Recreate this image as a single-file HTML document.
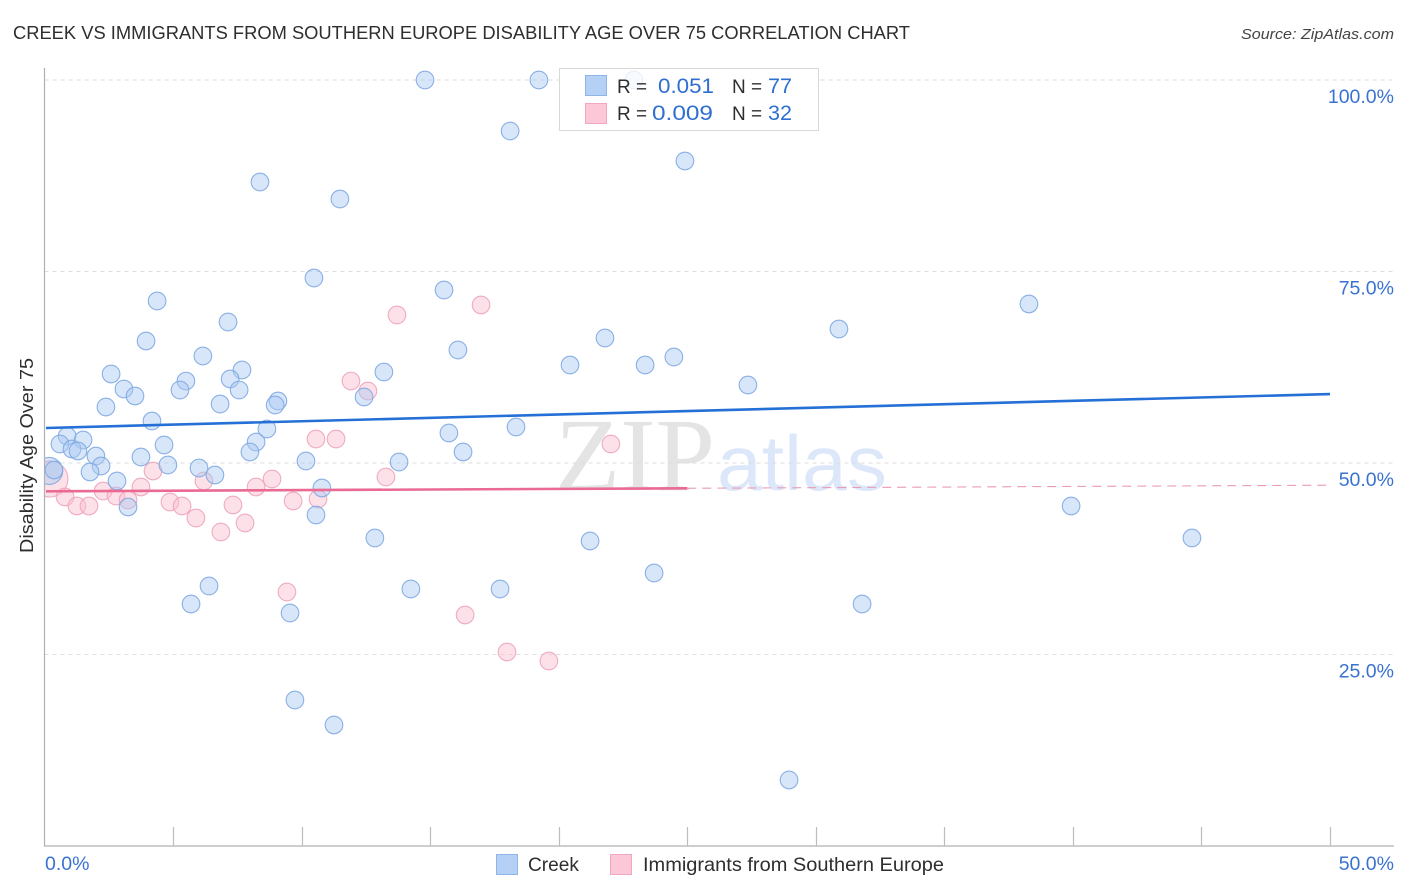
<!DOCTYPE html>
<html lang="en">
<head>
<meta charset="utf-8">
<title>Creek vs Immigrants from Southern Europe Disability Age Over 75 Correlation Chart</title>
<style>
html,body{margin:0;padding:0;background:#fff;}
body{width:1406px;height:892px;overflow:hidden;font-family:"Liberation Sans",sans-serif;}
svg{display:block;}
text{font-family:"Liberation Sans",sans-serif;}
</style>
</head>
<body>
<svg id="chart" width="1406" height="892" viewBox="0 0 1406 892" xmlns="http://www.w3.org/2000/svg">
  <defs>
    <clipPath id="plot-clip"><rect x="45" y="60" width="1349" height="786"/></clipPath>
  </defs>
  <text x="13" y="39" font-size="18.5" fill="#2e2e2e" textLength="897" lengthAdjust="spacingAndGlyphs">CREEK VS IMMIGRANTS FROM SOUTHERN EUROPE DISABILITY AGE OVER 75 CORRELATION CHART</text>
  <text x="1241" y="39" font-size="15" font-style="italic" fill="#444" textLength="153" lengthAdjust="spacingAndGlyphs">Source: ZipAtlas.com</text>

  <g>
    <text x="555" y="490" font-size="104" style="font-family:'Liberation Serif',serif" fill="#e4e4e4" textLength="160" lengthAdjust="spacingAndGlyphs">ZIP</text>
    <text x="717" y="490" font-size="78" fill="#dce8fa" textLength="170" lengthAdjust="spacingAndGlyphs">atlas</text>
  </g>

  <g id="grid"></g>
  <g id="axes"></g>
  <g id="pink-points" clip-path="url(#plot-clip)"></g>
  <g id="blue-points" clip-path="url(#plot-clip)"></g>
  <g id="trends"></g>
  <g id="y-labels"></g>
  <g id="x-labels"></g>

  <text transform="translate(33,553) rotate(-90)" font-size="18" fill="#2e2e2e" textLength="195" lengthAdjust="spacingAndGlyphs">Disability Age Over 75</text>

  <g>
    <rect x="559.5" y="68.5" width="259" height="62" fill="#fff" fill-opacity="0.8" stroke="#d8d8d8"/>
    <rect x="585.5" y="75.5" width="21" height="20" fill="#b5d0f5" stroke="#8fb5e6"/>
    <rect x="585.5" y="103.5" width="21" height="20" fill="#fcc8d8" stroke="#f2a9c0"/>
    <text x="617" y="93" font-size="19" fill="#2e2e2e">R =</text>
    <text x="658" y="93" font-size="21" fill="#2f6fd0" textLength="56" lengthAdjust="spacingAndGlyphs">0.051</text>
    <text x="732" y="93" font-size="19" fill="#2e2e2e">N =</text>
    <text x="768" y="93" font-size="21" fill="#2f6fd0" textLength="24" lengthAdjust="spacingAndGlyphs">77</text>
    <text x="617" y="120" font-size="19" fill="#2e2e2e">R =</text>
    <text x="652" y="120" font-size="21" fill="#2f6fd0" textLength="61" lengthAdjust="spacingAndGlyphs">0.009</text>
    <text x="732" y="120" font-size="19" fill="#2e2e2e">N =</text>
    <text x="768" y="120" font-size="21" fill="#2f6fd0" textLength="24" lengthAdjust="spacingAndGlyphs">32</text>
  </g>

  <g>
    <g>
      <rect x="496.5" y="854.5" width="21" height="20" fill="#b5d0f5" stroke="#8fb5e6"/>
      <text x="528" y="871" font-size="19.5" fill="#2e2e2e" textLength="51" lengthAdjust="spacingAndGlyphs">Creek</text>
    </g>
    <g>
      <rect x="610.5" y="854.5" width="21" height="20" fill="#fcc8d8" stroke="#f2a9c0"/>
      <text x="643" y="871" font-size="19.5" fill="#2e2e2e" textLength="301" lengthAdjust="spacingAndGlyphs">Immigrants from Southern Europe</text>
    </g>
  </g>
</svg>
<script>
// Chart data (percent values)
var creekX = [14.80,19.23,22.93,18.11,24.91,8.38,11.49,10.48,15.54,4.38,38.29,7.14,30.90,21.80,3.95,16.08,6.16,24.48,20.44,23.36,7.68,13.20,2.59,5.50,7.22,27.36,3.09,5.27,7.57,3.52,12.43,9.08,6.83,8.97,2.39,4.18,18.34,8.65,15.73,0.88,1.50,0.60,8.23,4.65,1.07,1.30,16.28,7.99,2.00,3.75,10.17,13.79,2.20,4.80,6.01,1.77,0.37,6.63,2.82,10.79,3.25,39.93,10.56,12.85,21.22,44.63,23.71,6.40,14.25,17.72,5.70,31.80,9.55,9.74,11.26,28.96];
var creekY = [100,100,100,93.34,89.43,86.68,84.46,74.15,72.58,71.15,70.76,68.41,67.49,66.32,65.93,64.75,63.97,63.84,62.79,62.79,62.14,61.88,61.62,60.70,60.97,60.18,59.66,59.53,59.53,58.75,58.62,58.09,57.70,57.57,57.31,55.48,54.70,54.44,53.92,53.52,53.00,52.48,52.74,52.35,51.83,51.57,51.44,51.44,50.91,50.78,50.26,50.13,49.61,49.74,49.35,48.83,49.09,48.43,47.65,46.74,44.26,44.39,43.21,40.21,39.82,40.21,35.64,33.94,33.55,33.55,31.59,31.59,30.42,19.06,15.80,8.62];
var creekLargeX = [0.18];
var creekLargeY = [48.96];
var immigrantsX = [13.71,16.98,11.92,12.58,10.56,11.34,22.03,4.22,13.28,8.85,6.20,8.23,3.75,2.28,2.78,0.80,3.25,9.67,10.64,4.88,5.35,1.26,1.73,7.33,5.89,7.80,6.86,9.43,16.36,17.99,19.62];
var immigrantsY = [69.32,70.63,60.70,59.40,53.13,53.13,52.48,48.96,48.17,47.91,47.65,46.87,46.87,46.34,45.69,45.56,45.17,45.04,45.30,44.91,44.39,44.39,44.39,44.52,42.82,42.17,40.99,33.16,30.16,25.33,24.15];
var immigrantsLargeX = [0.21];
var immigrantsLargeY = [47.91];
var creekTrendX = [0,50];
var creekTrendY = [54.57,59.0];
var immigrantsTrendSolidX = [0,25];
var immigrantsTrendSolidY = [46.3,46.7];
var immigrantsTrendDashedX = [25,50];
var immigrantsTrendDashedY = [46.7,47.1];
var xTicks = [0,5,10,15,20,25,30,35,40,45,50];
var xTickLabels = ["0.0%","50.0%"];
var xTickLabelValues = [0,50];
var yGridValues = [100,75,50,25];
var yTickLabels = ["100.0%","75.0%","50.0%","25.0%"];

function xScale(v){ return 44.5 + v * 25.71; }
function yScale(v){ return 846 - v * 7.66; }

var NS = 'http://www.w3.org/2000/svg';
function make(parent, tag, attrs){
  var el = document.createElementNS(NS, tag);
  for (var k in attrs) el.setAttribute(k, attrs[k]);
  document.getElementById(parent).appendChild(el);
  return el;
}

yGridValues.forEach(function(v){
  var el = make('grid', 'line', {x1:44.5, x2:1394, y1:yScale(v), y2:yScale(v), stroke:'#dcdcdc', 'stroke-width':1, 'stroke-dasharray':'4 4'});
  
  
});

var yAxis = make('axes', 'line', {x1:44.5, x2:44.5, y1:68, y2:846.5, stroke:'#b0b0b0', 'stroke-width':1.2});


var xAxis = make('axes', 'line', {x1:44, x2:1394, y1:846, y2:846, stroke:'#b0b0b0', 'stroke-width':1.2});


xTicks.slice(1).forEach(function(v){
  var px = Math.round(xScale(v)) + 0.5;
  var el = make('axes', 'line', {x1:px, x2:px, y1:827, y2:846, stroke:'#bcbcbc', 'stroke-width':1.2});
  
  
});

function drawPoints(group, xs, ys, r, fill, stroke, label){
  xs.forEach(function(x, i){
    var el = make(group, 'circle', {cx:xScale(x), cy:yScale(ys[i]), r:r, fill:fill, 'fill-opacity':0.46, stroke:stroke, 'stroke-opacity':0.9, 'stroke-width':1.1});
    
    
  });
}
drawPoints('pink-points', immigrantsLargeX, immigrantsLargeY, 18, '#fbbdd0', '#f0a3bc', 'immigrants-point-large');
drawPoints('pink-points', immigrantsX, immigrantsY, 8.8, '#fbbdd0', '#eea3bb', 'immigrants-point');
drawPoints('blue-points', creekLargeX, creekLargeY, 13.5, '#a9c8f3', '#7ea9e2', 'creek-point-large');
drawPoints('blue-points', creekX, creekY, 8.8, '#a9c8f3', '#7ea9e2', 'creek-point');

var t1 = make('trends', 'line', {x1:xScale(creekTrendX[0])+1.5, y1:yScale(creekTrendY[0]), x2:xScale(creekTrendX[1]), y2:yScale(creekTrendY[1]), stroke:'#2470d6', 'stroke-width':2.6});


var t2 = make('trends', 'line', {x1:xScale(immigrantsTrendSolidX[0])+1.5, y1:yScale(immigrantsTrendSolidY[0]), x2:xScale(immigrantsTrendSolidX[1]), y2:yScale(immigrantsTrendSolidY[1]), stroke:'#ea6a94', 'stroke-width':2.6});


var t3 = make('trends', 'line', {x1:xScale(immigrantsTrendDashedX[0]), y1:yScale(immigrantsTrendDashedY[0]), x2:xScale(immigrantsTrendDashedX[1]), y2:yScale(immigrantsTrendDashedY[1]), stroke:'#eb9ab5', 'stroke-width':1.1, 'stroke-dasharray':'9 6'});



yGridValues.forEach(function(v, i){
  var el = make('y-labels', 'text', {x:1394, y:yScale(v)+23, 'font-size':19.5, fill:'#3a72d0', 'text-anchor':'end'});
  el.textContent = yTickLabels[i];
  
  
});
xTickLabelValues.forEach(function(v, i){
  var anchor = i === 0 ? 'start' : 'end';
  var px = i === 0 ? xScale(v) + 0.5 : 1394;
  var el = make('x-labels', 'text', {x:px, y:870, 'font-size':19.5, fill:'#3a72d0', 'text-anchor':anchor});
  el.textContent = xTickLabels[i];
  
  
});
</script>
</body>
</html>
